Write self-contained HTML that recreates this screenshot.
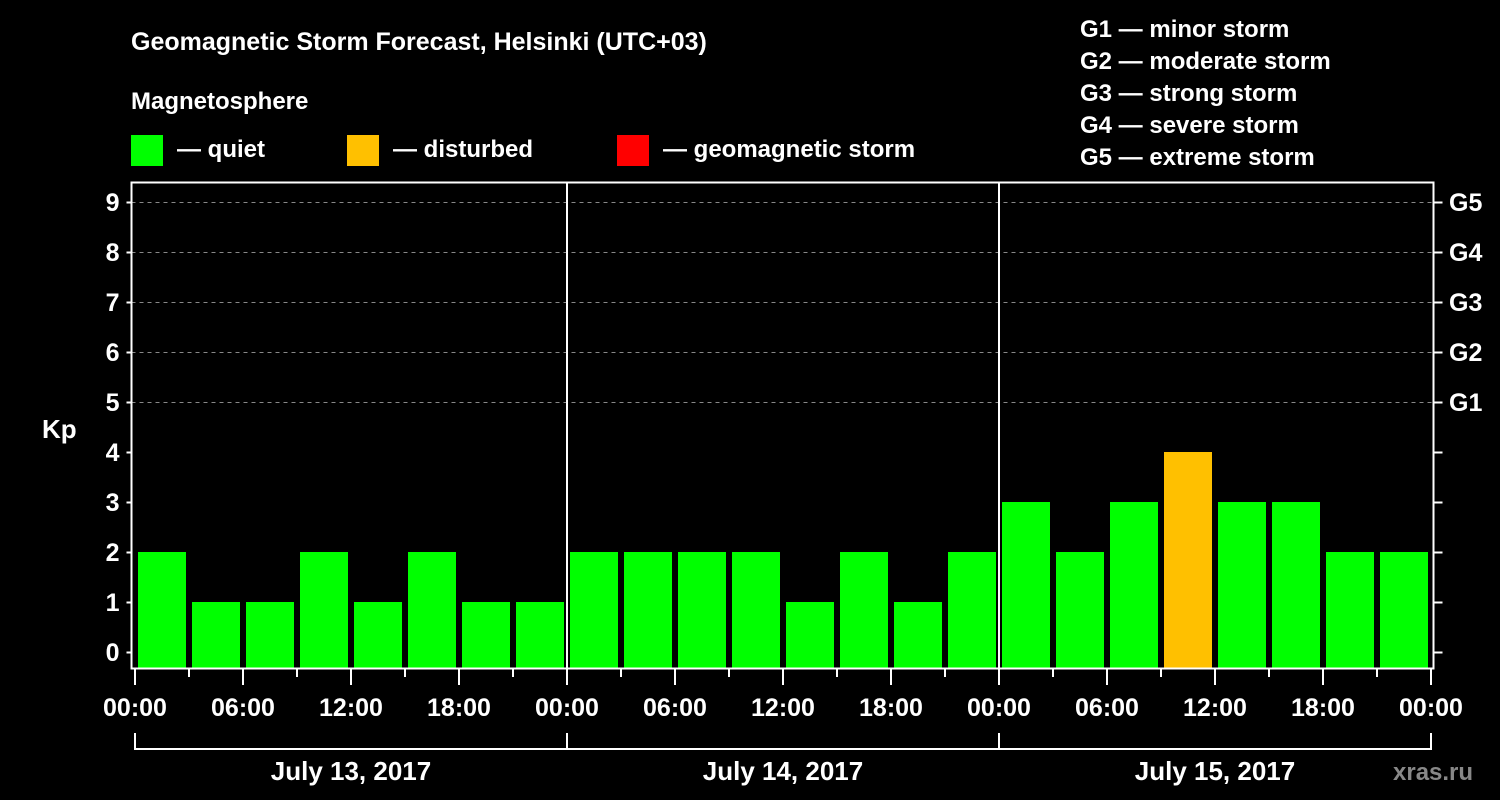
<!DOCTYPE html>
<html><head><meta charset="utf-8"><style>
html,body{margin:0;padding:0;background:#000;}
svg{display:block;font-family:"Liberation Sans",sans-serif;font-weight:bold;}
</style></head><body>
<svg id="c" width="1500" height="800" xmlns="http://www.w3.org/2000/svg">
<rect width="1500" height="800" fill="#000"/>
<text x="131" y="50" fill="#fff" font-size="25">Geomagnetic Storm Forecast, Helsinki (UTC+03)</text>
<text x="131" y="109" fill="#fff" font-size="24">Magnetosphere</text>
<g><rect x="131" y="135" width="32" height="31" fill="#00ff00"/><text x="177" y="157" fill="#fff" font-size="24">— quiet</text></g>
<g><rect x="347" y="135" width="32" height="31" fill="#ffc000"/><text x="393" y="157" fill="#fff" font-size="24">— disturbed</text></g>
<g><rect x="617" y="135" width="32" height="31" fill="#ff0000"/><text x="663" y="157" fill="#fff" font-size="24">— geomagnetic storm</text></g>
<g fill="#fff" font-size="24">
<text x="1080" y="37">G1 — minor storm</text>
<text x="1080" y="69">G2 — moderate storm</text>
<text x="1080" y="101">G3 — strong storm</text>
<text x="1080" y="133">G4 — severe storm</text>
<text x="1080" y="165">G5 — extreme storm</text>
</g>
<text x="42" y="438" fill="#fff" font-size="26">Kp</text>
<text x="1393" y="780" fill="#888" font-size="24">xras.ru</text>
<g id="plot"></g>
</svg>
<script>
const kpValues=[2,1,1,2,1,2,1,1, 2,2,2,2,1,2,1,2, 3,2,3,4,3,3,2,2];
const dayLabels=["July 13, 2017","July 14, 2017","July 15, 2017"];
const yTicks=[0,1,2,3,4,5,6,7,8,9];
const gLabels=["G1","G2","G3","G4","G5"];
const hourLabels=["00:00","06:00","12:00","18:00"];
const NS="http://www.w3.org/2000/svg";
const g=document.getElementById('plot');
const X0=135, SLOT=54, Y0=652, UNIT=50, L=131.5, R=1433.5, T=182.5, B=668.5;
const x=i=>X0+i*SLOT;
const y=v=>Y0-v*UNIT;
function mk(t,a,txt){const e=document.createElementNS(NS,t);for(const k in a)e.setAttribute(k,a[k]);if(txt!=null)e.textContent=txt;g.appendChild(e);return e;}
yTicks.forEach(v=>{
 if(v>=5){const l=mk('line',{x1:L,x2:R,y1:y(v)+.5,y2:y(v)+.5,stroke:'#888','stroke-dasharray':'4,4'});
 }
 const t=mk('line',{x1:L-5,x2:L,y1:y(v)+.5,y2:y(v)+.5,stroke:'#fff','stroke-width':2});
 
 const t2=mk('line',{x1:R,x2:R+9,y1:y(v)+.5,y2:y(v)+.5,stroke:'#fff','stroke-width':2});
 
 const lb=mk('text',{x:L-12,y:y(v)+9,fill:'#fff','font-size':25,'text-anchor':'end'},v);
 
});
gLabels.forEach((s,i)=>{const lb=mk('text',{x:1449,y:y(5+i)+9,fill:'#fff','font-size':25},s);
 });
kpValues.forEach((v,i)=>{
 const c=v>=5?'#ff0000':(v>=4?'#ffc000':'#00ff00');
 const r=mk('rect',{x:x(i)+3,y:y(v),width:48,height:B-0.5-y(v),fill:c});
 
});
const f=mk('rect',{x:L,y:T,width:R-L,height:B-T,fill:'none',stroke:'#fff','stroke-width':2});

[1,2].forEach(d=>{const l=mk('line',{x1:x(d*8),x2:x(d*8),y1:T,y2:B,stroke:'#fff','stroke-width':2});
 });
for(let i=0;i<=24;i++){
 const major=i%2===0;
 const t=mk('line',{x1:x(i),x2:x(i),y1:B,y2:major?685:677,stroke:'#fff','stroke-width':2});
 
 if(major){const lb=mk('text',{x:x(i),y:716,fill:'#fff','font-size':25,'text-anchor':'middle'},hourLabels[(i/2)%4]);
  }
}
dayLabels.forEach((s,d)=>{
 const p=mk('path',{d:`M${x(d*8)},733V749H${x(d*8+8)}V733`,fill:'none',stroke:'#fff','stroke-width':2});
 
 const lb=mk('text',{x:x(d*8+4),y:780,fill:'#fff','font-size':26,'text-anchor':'middle'},s);
 
});
</script>
</body></html>
